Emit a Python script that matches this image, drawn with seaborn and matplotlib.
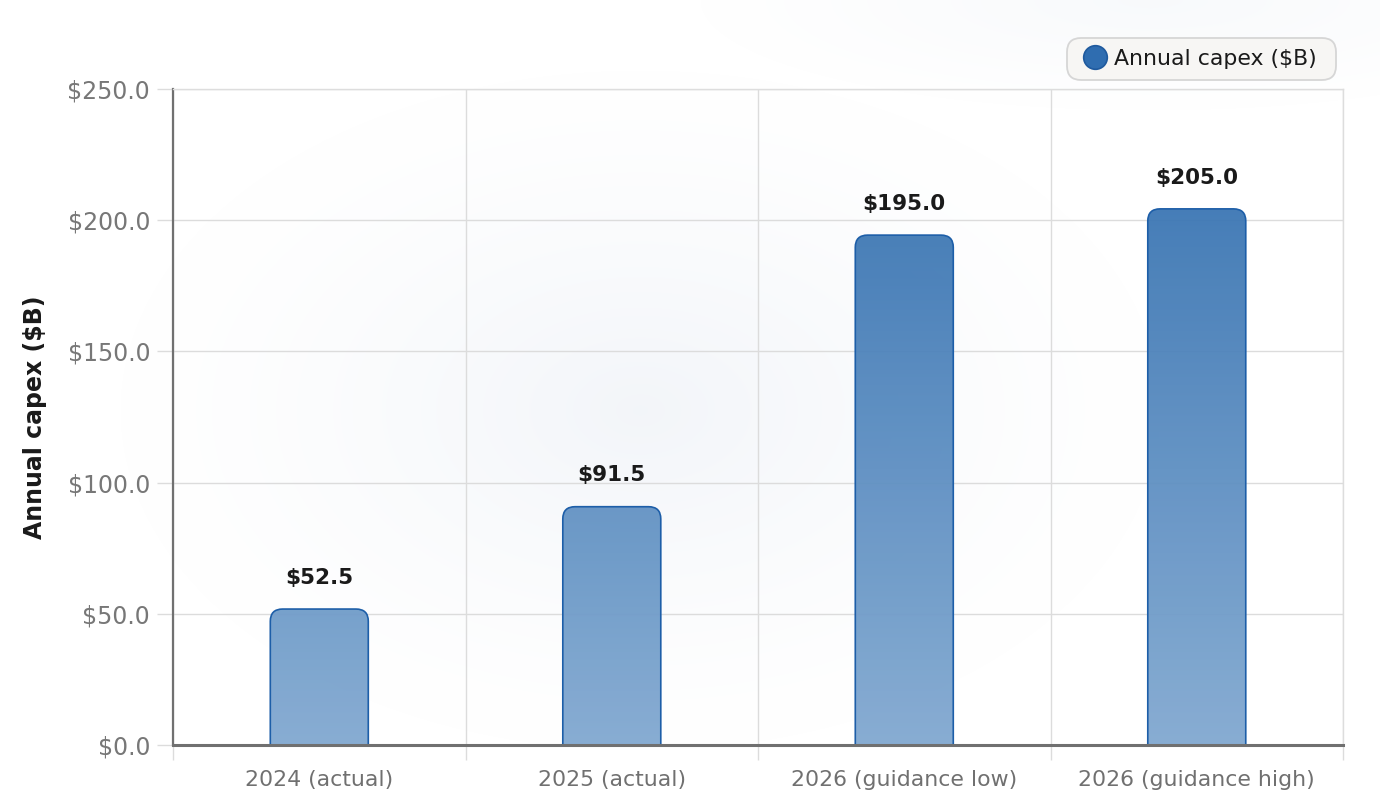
import numpy as np
import pandas as pd
import matplotlib
matplotlib.use("Agg")
import matplotlib.pyplot as plt
import seaborn as sns
from matplotlib.colors import LinearSegmentedColormap
from matplotlib.patches import FancyBboxPatch
from matplotlib.lines import Line2D
from matplotlib.ticker import FuncFormatter, FixedLocator

# data
categories = ["2024 (actual)", "2025 (actual)", "2026 (guidance low)", "2026 (guidance high)"]
capex = [52.5, 91.5, 195.0, 205.0]
series_name = "Annual capex ($B)"

df = pd.DataFrame({"period": categories, "capex": capex})

sns.set_theme(style="white")
plt.rcParams["font.family"] = ["DejaVu Sans"]

fig = plt.figure(figsize=(13.8, 8.08), dpi=100)

# soft radial background
bg = fig.add_axes([0, 0, 1, 1], zorder=-10)
yy, xx = np.mgrid[0:808, 0:1380]
r1 = np.hypot((xx - 640) / 520.0, (yy - 410) / 340.0)
r2 = np.hypot((xx - 1150) / 450.0, (yy - 0) / 110.0)
tint = np.clip(1 - r1, 0, 1) ** 1.3 * 0.8 + np.clip(1 - r2, 0, 1) * 0.45
tint = np.clip(tint, 0, 1)
base = np.array([1.0, 1.0, 1.0])
blue = np.array([0.94, 0.953, 0.972])
img = base[None, None, :] * (1 - tint[..., None]) + blue[None, None, :] * tint[..., None]
bg.imshow(img, extent=(0, 1, 0, 1), aspect="auto")
bg.axis("off")

ax = fig.add_axes([0.1254, 0.078, 0.8478, 0.8119])
ax.patch.set_alpha(0)

sns.barplot(data=df, x="period", y="capex", ax=ax, width=0.335, color="#5b8ec4")

ax.set_xlim(-0.5, 3.5)
ax.set_ylim(0, 250)

grad = LinearSegmentedColormap.from_list("g", ["#82a9d1", "#3a75b3"])
gradient = np.linspace(0, 1, 256).reshape(-1, 1)

for p in list(ax.patches):
    x0, w, h = p.get_x(), p.get_width(), p.get_height()
    p.remove()
    rad_x = 0.042
    aspect = 111
    box = FancyBboxPatch((x0, -10), w, h + 10 - 0.7,
                         boxstyle=f"round,pad=0,rounding_size={rad_x}",
                         mutation_aspect=aspect,
                         facecolor="none", edgecolor="#1d5ea8", linewidth=1.2, zorder=3)
    ax.add_patch(box)
    im = ax.imshow(gradient, extent=(x0, x0 + w, 0, 210), origin="lower",
                   cmap=grad, aspect="auto", zorder=2.5, alpha=0.95)
    im.set_clip_path(box)

ax.set_xlim(-0.5, 3.5)
ax.set_ylim(0, 250)

for i, v in enumerate(capex):
    ax.annotate(f"${v:.1f}", (i, v), xytext=(0, 14), textcoords="offset points",
                ha="center", va="bottom", fontsize=15.5, fontweight="bold", color="#1a1a1a")

# axes styling
ax.yaxis.set_major_locator(FixedLocator([0, 50, 100, 150, 200, 250]))
ax.yaxis.set_major_formatter(FuncFormatter(lambda v, _: f"${v:.1f}"))
ax.tick_params(axis="y", length=11.5, width=1, color="#dcdcdc", labelsize=17,
               labelcolor="#777777", pad=5, left=True)
ax.grid(axis="y", color="#dcdcdc", linewidth=1, zorder=0)
ax.set_axisbelow(True)

ax.set_xticks(range(len(categories)))
ax.set_xticklabels(categories)
ax.tick_params(axis="x", which="major", length=0, labelsize=15.8, labelcolor="#707070", pad=18)
ax.set_xticks([-0.5, 0.5, 1.5, 2.5, 3.5], minor=True)
ax.tick_params(axis="x", which="minor", length=11, width=1, color="#dcdcdc", bottom=True)
ax.grid(axis="x", which="minor", color="#dcdcdc", linewidth=1)
ax.grid(axis="x", which="major", visible=False)

ax.set_xlabel("")
ax.set_ylabel("Annual capex ($B)", fontsize=17, fontweight="bold", color="#1a1a1a", labelpad=15)

ax.spines["left"].set_color("#707070")
ax.spines["left"].set_linewidth(1.6)
ax.spines["bottom"].set_color("#707070")
ax.spines["bottom"].set_linewidth(2.2)
ax.spines["bottom"].set_zorder(5)
for s in ("top", "right"):
    ax.spines[s].set_color("#dddddd")
    ax.spines[s].set_linewidth(1)

# legend: rounded pill drawn separately (below the axes layer), entries without frame
pill = FancyBboxPatch((10.67, 7.28), 2.69, 0.42,
                      boxstyle="round,pad=0,rounding_size=0.14",
                      transform=fig.dpi_scale_trans, facecolor="#f7f6f4",
                      edgecolor="#d6d6d6", linewidth=1.3, zorder=-1)
fig.add_artist(pill)
handle = Line2D([], [], marker="o", linestyle="none", markersize=17,
                markerfacecolor="#2f6db0", markeredgecolor="#1f5a9e", markeredgewidth=1.2)
leg = ax.legend([handle], [series_name], loc="center left",
                bbox_to_anchor=(1083 / 1380, 1 - 59 / 808), bbox_transform=fig.transFigure,
                fontsize=15.8, frameon=False, handletextpad=0.32,
                borderpad=0, borderaxespad=0, handlelength=1.1, labelcolor="#1a1a1a")

fig.savefig("out.png", dpi=100)
